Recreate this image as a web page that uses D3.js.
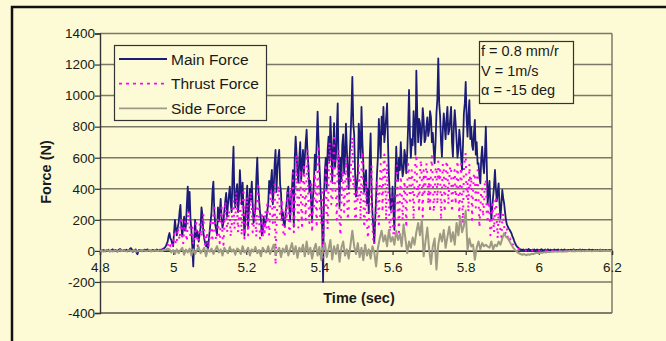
<!DOCTYPE html>
<html>
<head>
<meta charset="utf-8">
<script src="https://cdn.jsdelivr.net/npm/d3@7"></script>
<style>
  html, body { margin: 0; padding: 0; background: #fdfad6; }
  svg { display: block; font-family: Arial, "Liberation Sans", sans-serif; }
</style>
</head>
<body>
<svg id="chart"></svg>
<script>
// recorded signals start at 4.8 s; main/thrust sampled finer than side
const T_START = 4.8
const STEP_FINE = 0.0025
const STEP_SIDE = 0.005

const mainForce = [
  // 4.80 - 4.98 idle
  0, 4, -2, 3, 6, 1, -3, 5, 2, 8, 0, -4, 3, 7, 10, 4, -2, 6, 1, -5,
  5, 9, 12, 5, 2, -1, 6, 3, 0, 8, -3, 4, 6, 15, 18, 8, -6, 2, 5, 10,
  -12, -22, 2, 7, 4, 1, -3, 2, 5, 8, 2, 6, 10, 4, 1, 3, -2, 5, 7, 3,
  2, 6, 9, 4, 1, 5, 8, 3, 10, 14, 16, 22,
  // 4.98 - 5.95 cutting
  30, 45, 60, 95, 115, 80, 70, 45, 30, 120,
  200, 140, 100, 150, 180, 250, 296, 150, 92, 160, 220, 130, 160, 300, 414, 250, 380, 200, 130, 20,
  -100, 60, 200, 90, 130, 100, 60, 110, 150, 280, 232, 120, 80, 50, 30, 60, 0, 70, 130, 190,
  250, 380, 446, 260, 170, 140, 100, 280, 190, 250, 335, 210, 150, 180, 260, 320, 373, 220, 300, 360,
  414, 300, 250, 500, 671, 350, 280, 380, 430, 250, 330, 520, 400, 300, 440, 250, 100, 200, 300, 420,
  150, 280, 400, 330, 446, 300, 180, 220, 280, 470, 600, 420, 330, 250, 200, 100, 116, 220, 160, 180,
  200, 260, 300, 450, 373, 450, 521, 300, 400, 560, 650, 380, 521, 600, 650, 430, 373, 200, 250, 180,
  156, 240, 300, 380, 414, 280, 200, 350, 400, 520, 156, 600, 736, 620, 500, 440, 600, 700, 450, 560,
  650, 500, 600, 700, 780, 620, 550, 380, 450, 300, 200, 350, 450, 620, 521, 700, 897, 720, 550, 420,
  300, 150, -200, 350, 521, 600, 400, 650, 735, 580, 864, 700, 450, 620, 822, 540, 600, 780, 950, 500,
  285, 600, 450, 680, 750, 500, 600, 820, 650, 520, 400, 600, 729, 900, 1120, 820, 750, 500, 350, 420,
  500, 820, 714, 600, 928, 700, 564, 380, 457, 520, 307, 400, 243, 600, 757, 400, 242, 150, 50, 200,
  350, 500, 607, 850, 714, 600, 864, 750, 928, 700, 778, 860, 950, 700, 478, 360, 264, 300, 414, 250,
  136, 450, 671, 520, 450, 600, 520, 700, 564, 480, 521, 650, 607, 500, 628, 800, 1036, 750, 600, 720,
  680, 900, 778, 620, 1160, 880, 700, 850, 822, 680, 760, 920, 843, 700, 720, 800, 860, 740, 780, 900,
  860, 700, 760, 650, 564, 700, 885, 980, 1240, 950, 870, 700, 607, 780, 885, 800, 720, 850, 928, 750,
  778, 850, 928, 700, 607, 800, 907, 820, 714, 600, 650, 780, 714, 600, 521, 680, 885, 950, 1088, 850,
  736, 880, 970, 720, 800, 680, 650, 760, 843, 620, 700, 560, 564, 480, 435, 600, 671, 560, 500, 620,
  800, 560, 300, 380, 450, 300, 200, 280, 350, 420, 521, 400, 320, 380, 435, 300, 210, 300, 392, 340,
  307, 250, 200, 170, 157, 145, 136, 125, 114, 95, 82, 65, 50, 38, 29, 22, 18, 12, 7,
  // 5.95 - 6.2 idle
  8, 5, 10, 3, 6, 9, 2, 7, 12, 4, 6, 3, 8, 5, 10, 2, 6, 9, 4, 7,
  3, 8, 11, 5, 2, 6, 9, 4, 7, 10, 3, 5, 8, 2, 6, 4, 9, 3, 7, 5,
  10, 4, 2, 6, 8, 3, 5, 9, 4, 6, 2, 7, 5, 3, 8, 4, 6, 10, 3, 5,
  7, 2, 6, 4, 9, 3, 5, 8, 2, 6, 4, 7, 3, 5, 9, 2, 6, 4, 8, 3,
  5, 7, 2, 6, 4, 3, 8, 5, 2, 6, 4, 3, 7, 5, 2, 4, 6, 3, 5, 4
]

const thrustForce = [
  2, 0, 3, 1, 4, 2, 0, 3, 5, 1, 2, 4, 0, 3, 1, 5, 2, 0, 4, 3,
  1, 2, 5, 0, 3, 4, 1, 2, 6, 3, 0, 2, 4, 1, 3, 5, 2, 0, 4, 2,
  3, 1, 5, 2, 0, 3, 4, 1, 2, 5, 3, 0, 2, 4, 1, 3, 6, 2, 4, 1,
  3, 5, 2, 4, 6, 3, 5, 8, 6, 10, 12, 16,
  20, 28, 35, 60, 50, 30, 40, 55, 30, 110,
  80, 40, 60, 150, 120, 70, 150, 220, 90, 50, 130, 190, 110, 60, 200, 260, 170, 80, 100, 150,
  40, 90, 120, 200, 90, 30, 60, 170, 140, 90, 180, 240, 100, 40, 60, 120, 20, 40, 90, 180,
  150, 60, 230, 300, 120, 70, 80, 200, 110, 50, 200, 280, 90, 40, 160, 320, 250, 120, 180, 260,
  220, 90, 150, 300, 320, 140, 180, 380, 260, 120, 210, 330, 240, 100, 300, 400, 80, 150, 190, 350,
  100, 200, 260, 380, 280, 120, 140, 300, 200, 90, 380, 440, 220, 80, 140, 250, 90, 180, 120, 260,
  150, 320, 200, 100, 250, 400, 330, 180, 240, 450, -90, 150, 300, 420, 380, 200, 200, 330, 160, 90,
  100, 260, 200, 380, 260, 120, 150, 400, 240, 500, 120, 300, 400, 620, 300, 150, 380, 520, 280, 160,
  400, 560, 350, 200, 480, 650, 320, 180, 260, 450, 120, 280, 280, 500, 330, 150, 520, 680, 350, 200,
  180, 400, -50, 200, 320, 560, 260, 140, 460, 700, 620, 300, 300, 550, 750, 400, 380, 200, 560, 650,
  200, 100, 300, 520, 460, 250, 380, 600, 420, 200, 260, 480, 450, 650, 733, 420, 460, 200, 220, 400,
  320, 550, 430, 200, 520, 640, 360, 150, 280, 450, 200, 80, 160, 300, 420, 550, 150, 60, 40, 180,
  220, 450, 360, 150, 420, 560, 500, 250, 540, 620, 450, 200, 560, 400, 300, 120, 180, 350, 260, 100,
  90, 250, 400, 550, 280, 120, 330, 480, 380, 200, 320, 450, 360, 150, 400, 560, 540, 300, 380, 520,
  420, 200, 460, 580, 620, 350, 430, 250, 500, 585, 460, 220, 520, 380, 440, 565, 500, 300, 470, 250,
  520, 610, 460, 250, 360, 520, 540, 300, 575, 450, 520, 200, 380, 560, 520, 250, 440, 580, 545, 300,
  460, 545, 540, 250, 380, 500, 520, 300, 420, 580, 400, 220, 440, 560, 330, 180, 520, 590, 630, 350,
  440, 250, 560, 420, 480, 200, 380, 500, 500, 280, 420, 520, 340, 150, 270, 400, 400, 220, 300, 450,
  460, 250, 180, 320, 270, 100, 130, 300, 220, 120, 300, 350, 190, 80, 250, 200, 130, 90, 200, 240,
  160, 110, 120, 150, 90, 60, 70, 80, 55, 45, 40, 35, 28, 22, 18, 15, 12, 10, 8,
  6, 4, 7, 3, 5, 2, 6, 4, 1, 5, 3, 6, 2, 4, 0, 3, 5, 2, 4, 1,
  3, 5, 2, 0, 4, 3, 1, 5, 2, 3, 0, 4, 2, 5, 1, 3, 2, 4, 0, 3,
  5, 1, 3, 2, 4, 0, 3, 5, 2, 4, 1, 3, 0, 2, 4, 3, 1, 5, 2, 3,
  1, 4, 2, 0, 3, 5, 2, 4, 1, 3, 2, 0, 4, 3, 1, 5, 2, 3, 0, 2,
  4, 1, 3, 2, 5, 0, 3, 2, 4, 1, 3, 0, 2, 4, 1, 3, 2, 0, 3, 2
]

const sideForce = [
  -3, 2, -5, 0, 4, -2, 1, -4, 3, 0, -2, 5, -1, 2, -3, 0, 4, -2, 1, 3, -4, 0, 2, -1, 3, -2, 0, 4, -3, 1, 2, -1, 0, 3, -2, 5,
  8, 15, 10, -10, 5,
  -20, 10, -15, 5, 20, -25, 8, -10, 15, -30,
  10, -20, 5, 25, -15, 0, 20, -35, 10, -5,
  15, -20, 5, 30, -10, 10, -30, 20, 0, -15,
  25, -5, 10, -25, 15, 5, -20, 30, -10, 0,
  20, -30, 10, -5, 25, -15, 5, -35, 20, 0,
  -10, 30, -20, 10, 40, -25, 0, 20, -40, 15,
  -10, 35, -30, 10, 50, -20, 30, -45, 20, -5,
  40, -35, 60, -20, 20, -50, 10, 45, -30, 25,
  -60, 20, 50, -40, 10, 70, -55, 30, -20, 40,
  -70, 20, 60, -30, 10, -50, 40, 130, 30, -20,
  50, -40, 20, -60, 40, -30, 10, -50, 30, -10,
  -100, 20, 80, 130, 60, 100, 30, 135, 60, 90,
  40, 130, 70, 110, 30, 170, 80, -15, 60, 20,
  86, 40, 120, 180, 100, 200, -35, 60, 150, 10,
  -85, 30, 80, -120, 40, 110, 60, 135, 20, 90,
  156, 60, 120, 40, 180, 100, 220, 120, 160, 260,
  6, 80, 28, 40, -57, 20, 60, 10, 50, 30,
  40, 28, 20, 60, 10, 40, 30, 60, 40, 80,
  114, 90, 82, 60, 39, 20, 6, -5, -15, -20,
  -25, -20, -28, -22, -25, -18, -20, -15, -12, -15, -10, -12, -8, -10, -5, -8, -5, -6, -3, -5, -4, -2, -5, -3, -4,
  -2, 0, -3, -1, -2, 0, -1, -3, 0, -2, 1, -1, 0, -2, 0, 1, -1, 0, 2, -1, 0, 1, 0, -1, 0
]

const yTicks = [-400, -200, 0, 200, 400, 600, 800, 1000, 1200, 1400]
const xTicks = [4.8, 5, 5.2, 5.4, 5.6, 5.8, 6, 6.2]
const seriesNames = ['Main Force', 'Thrust Force', 'Side Force']
const notes = ['f = 0.8 mm/r', 'V = 1m/s', 'α = -15 deg']

const width = 666
const height = 341
const bg = '#fdfad6'

const svg = d3.select('#chart')
  .attr('width', width)
  .attr('height', height)

svg.append('rect').attr('width', width).attr('height', height).attr('fill', bg)

const x = d3.scaleLinear().domain([4.8, 6.2]).range([100, 612])
const y = d3.scaleLinear().domain([-400, 1400]).range([313, 33.5])

// outer frame of the figure (top + left edges visible)
svg.append('path')
  .attr('d', `M12,${height} L12,7 L${width},7`)
  .attr('fill', 'none')
  .attr('stroke', '#111')
  .attr('stroke-width', 2.5)

// gridlines
svg.append('g')
  .selectAll('line')
  .data(yTicks)
  .enter()
  .append('line')
  .attr('x1', x(4.8))
  .attr('x2', x(6.2))
  .attr('y1', d => y(d))
  .attr('y2', d => y(d))
  .attr('stroke', d => d === -400 ? '#55554a' : '#7a7868')
  .attr('stroke-width', 1.5)

// right border of plot area
svg.append('line')
  .attr('x1', x(6.2)).attr('x2', x(6.2))
  .attr('y1', y(1400)).attr('y2', y(-400))
  .attr('stroke', '#6a6858')
  .attr('stroke-width', 1.3)

// y axis
const yAxis = svg.append('g')
  .attr('transform', `translate(${x(4.8)},0)`)
  .call(d3.axisLeft(y).tickValues(yTicks).tickSize(5).tickFormat(d => String(d)))
yAxis.select('.domain').attr('stroke', '#333').attr('stroke-width', 1.4)
yAxis.selectAll('.tick line').attr('stroke', '#333').attr('stroke-width', 1.2)
yAxis.selectAll('.tick text')
  .attr('font-size', 13.5)
  .attr('fill', '#1a1a1a')
  .attr('x', -5)
  .attr('font-family', 'Arial, "Liberation Sans", sans-serif')

// x axis sits on the zero line
const xAxis = svg.append('g')
  .attr('transform', `translate(0,${y(0)})`)
  .call(d3.axisBottom(x).tickValues(xTicks).tickSize(4).tickFormat(d => String(+d.toFixed(1))))
xAxis.select('.domain').attr('stroke', '#333').attr('stroke-width', 1.4)
xAxis.selectAll('.tick line').attr('stroke', '#333').attr('stroke-width', 1.2)
xAxis.selectAll('.tick text')
  .attr('font-size', 13.5)
  .attr('fill', '#1a1a1a')
  .attr('y', 12)
  .attr('font-family', 'Arial, "Liberation Sans", sans-serif')

// series lines, drawn in Excel order (later on top)
const series = [
  { name: seriesNames[0], values: mainForce, step: STEP_FINE, color: '#1c1c78', width: 1.8, dash: null },
  { name: seriesNames[1], values: thrustForce, step: STEP_FINE, color: '#ff00ff', width: 2, dash: '2,5.5' },
  { name: seriesNames[2], values: sideForce, step: STEP_SIDE, color: '#9d9a85', width: 2, dash: null }
]

svg.append('defs').append('clipPath').attr('id', 'plotclip')
  .append('rect')
  .attr('x', x(4.8)).attr('y', y(1400))
  .attr('width', x(6.2) - x(4.8)).attr('height', y(-400) - y(1400))

svg.append('g')
  .attr('clip-path', 'url(#plotclip)')
  .selectAll('path')
  .data(series)
  .enter()
  .append('path')
  .attr('d', s => d3.line()
    .x((d, i) => x(T_START + i * s.step))
    .y(d => y(d))(s.values))
  .attr('fill', 'none')
  .attr('stroke', d => d.color)
  .attr('stroke-width', d => d.width)
  .attr('stroke-dasharray', d => d.dash)
  .attr('stroke-linejoin', 'round')

// axis titles
svg.append('text')
  .attr('x', 359)
  .attr('y', 303)
  .attr('text-anchor', 'middle')
  .attr('font-size', 14.5)
  .attr('font-weight', 'bold')
  .attr('fill', '#1a1a1a')
  .text('Time (sec)')

svg.append('text')
  .attr('transform', 'translate(51,172) rotate(-90)')
  .attr('text-anchor', 'middle')
  .attr('font-size', 14.5)
  .attr('font-weight', 'bold')
  .attr('fill', '#1a1a1a')
  .text('Force (N)')

// legend
const legend = svg.append('g')
legend.append('rect')
  .attr('x', 114.5).attr('y', 45.5)
  .attr('width', 152).attr('height', 75)
  .attr('fill', bg)
  .attr('stroke', '#333')
  .attr('stroke-width', 1.2)

const item = legend.selectAll('g.item')
  .data(series)
  .enter()
  .append('g')
  .attr('class', 'item')
  .attr('transform', (d, i) => `translate(0,${59 + i * 24.7})`)

item.append('line')
  .attr('x1', 119).attr('x2', 167)
  .attr('stroke', d => d.color)
  .attr('stroke-width', d => d.name === 'Main Force' ? 2 : 1.8)
  .attr('stroke-dasharray', d => d.dash ? '3,4' : null)

item.append('text')
  .attr('x', 171)
  .attr('y', 5.5)
  .attr('font-size', 15.5)
  .attr('fill', '#1a1a1a')
  .text(d => d.name)

// test conditions box
const note = svg.append('g')
note.append('rect')
  .attr('x', 479.5).attr('y', 41.5)
  .attr('width', 94).attr('height', 62)
  .attr('fill', bg)
  .attr('stroke', '#333')
  .attr('stroke-width', 1.2)

note.selectAll('text')
  .data(notes)
  .enter()
  .append('text')
  .attr('x', 481)
  .attr('y', (d, i) => 56 + i * 19.5)
  .attr('font-size', 14.5)
  .attr('fill', '#1a1a1a')
  .text(d => d)
</script>
</body>
</html>
